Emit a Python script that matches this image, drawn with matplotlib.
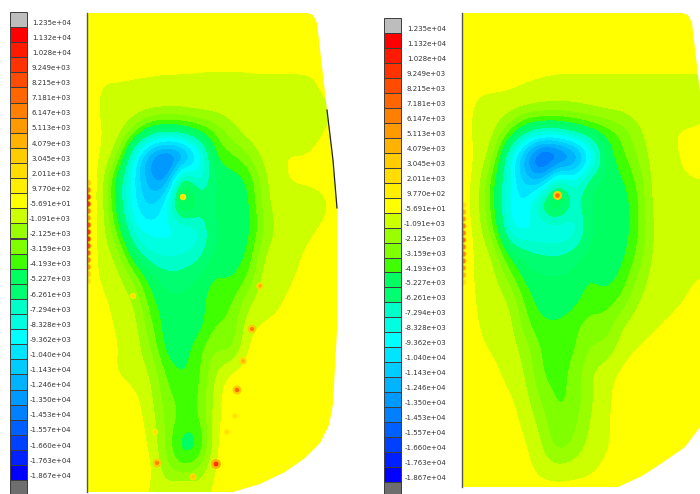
import matplotlib
matplotlib.use("Agg")
import matplotlib.pyplot as plt
import numpy as np
from matplotlib.colors import BoundaryNorm, ListedColormap
from matplotlib.patches import Polygon

# legend labels, top to bottom (first one is the grey overflow box)
labels = ["1.235e+04", "1.132e+04", "1.028e+04", "9.249e+03", "8.215e+03", "7.181e+03",
          "6.147e+03", "5.113e+03", "4.079e+03", "3.045e+03", "2.011e+03", "9.770e+02",
          "-5.691e+01", "-1.091e+03", "-2.125e+03", "-3.159e+03", "-4.193e+03", "-5.227e+03",
          "-6.261e+03", "-7.294e+03", "-8.328e+03", "-9.362e+03", "-1.040e+04", "-1.143e+04",
          "-1.246e+04", "-1.350e+04", "-1.453e+04", "-1.557e+04", "-1.660e+04", "-1.763e+04",
          "-1.867e+04"]
band_colors = ["#ff0000", "#ff1a00", "#ff3300", "#ff4c00", "#ff6600", "#ff8000", "#ff9900",
               "#ffb300", "#ffcc00", "#ffdd00", "#ffee00", "#ffff00", "#ccff00", "#99ff00",
               "#80ff00", "#40ff00", "#00ff60", "#00ff70", "#00ffc8", "#00ffe0", "#00ffff",
               "#00e5ff", "#00ccff", "#00b3ff", "#0099ff", "#0080ff", "#0060ff", "#0040ff",
               "#0020ff", "#0000ff"]

# field values in thousands, sampled every 16 px across and 24 px down
left_field = [
    [0] * 17,
    [0] * 17,
    [0] * 17,
    [0, -.7, -.7, -.8, -.9, -1, -1, -1.1, -1.2, -1.2, -1.1, -1, -1, -1, -1, 0, 0],
    [0, -.9, -.7, -.8, -.8, -.9, -.9, -.8, -.8, -1, -1, -1, -1, -1, -1, -.9, 0],
    [0, -.6, -1, -3, -6, -6.5, -6, -5, -3.8, -2, -1, -.6, -.6, -1, -1, -.5, 0],
    [0, -.6, -2.2, -10, -14, -16, -15, -10.5, -4.5, -4, -3, -1.2, -.6, -.5, -.5, 0, 0],
    [.3, -.9, -6.5, -10, -13, -14, -3.5, -9, -5.5, -5.5, -5, -2, -.7, -.4, -.4, -.2, 0],
    [.3, -.9, -6, -10, -11.5, -9, -2, -6, -5.5, -5.5, -5.5, -2, -1, -1, -1, -.8, 0],
    [.3, -1, -4.5, -9, -9.4, -9.4, -9.4, -8.5, -5.5, -5.5, -5.5, -3, -1, -1, -.8, -.3, 0],
    [.3, -1, -2, -6.5, -8, -8.3, -8, -7.5, -5.5, -5.5, -5, -1.5, -1, -.8, -.3, 0, 0],
    [0, -.8, -1.2, -3, -5.5, -6.3, -6.3, -5.5, -4.5, -5, -4, -1, -.9, -.6, -.2, 0, 0],
    [0, -.4, -.9, -1.5, -4.5, -5.5, -5.5, -5.2, -4, -4, -2, -.8, -.7, -.3, 0, 0, 0],
    [0, -.2, -.8, -1, -3.5, -5.5, -5.5, -5.5, -3.5, -3.8, -.8, -.5, -.5, 0, 0, 0, 0],
    [0, 0, -.6, -1, -2.5, -5.5, -5.3, -4, -2.5, -3.5, -.3, 0, 0, 0, 0, 0, 0],
    [0, -.3, -.7, -1, -1.5, -4, -5, -4, -1.5, -.2, 0, 0, 0, 0, 0, 0, 0],
    [0, 0, 0, -.3, -1.2, -3.5, -4, -4, -1, .3, 0, 0, 0, 0, 0, 0, 0],
    [0, 0, 0, -.1, -.9, -3, -4, -4, -.9, .2, 0, 0, 0, 0, 0, 0, 0],
    [0, 0, 0, 0, -.6, -3, -6, -5.5, -.5, .5, 0, 0, 0, 0, 0, 0, 0],
    [0, 0, 0, 0, -.1, -2.5, -3.5, -2.5, -.3, 0, 0, 0, 0, 0, 0, 0, 0],
    [0, 0, 0, 0, -.8, -1, .5, -1, -.3, 0, 0, 0, 0, 0, 0, 0, 0],
]
right_field = [
    [0] * 17,
    [0] * 17,
    [0] * 17,
    [0, -.3, -.3, -.4, -.6, -.8, -1, -1, -1, -1, -1, -1, -1, -1, -1, -1, -1],
    [0, -.9, -1, -1, -1.3, -1.4, -1.5, -1.4, -1.2, -1, -1, -1, -1, -1, -1, -1, 0],
    [0, -1, -1.2, -3.5, -6.5, -7.5, -7.5, -6.5, -5.5, -4.5, -3.5, -1.8, -1, -.6, -.4, -.4, 0],
    [0, -.7, -2, -9, -13.5, -18, -17, -15, -11, -5.5, -4, -2.5, -1, -.8, -.4, -.4, -.4],
    [0, -.9, -4.5, -9, -11.5, -12.5, -6, -9, -5.5, -5.5, -5, -3.5, -1, -.8, -.6, -.5, -.5],
    [0, -1.2, -4.5, -9.4, -10, -5, -3, -7.5, -5.5, -5.5, -5.5, -4, -1, -1, -1, -1, -1],
    [.3, -1, -3.5, -9.4, -9.4, -9.4, -9.4, -9.2, -5.5, -5.5, -5.5, -4, -1.2, -1, -1, -1, -1],
    [.3, -.9, -1.5, -5.5, -6.3, -6.8, -7, -6.3, -5.5, -5.5, -5.3, -3.5, -1.2, -1, -1, -.9, -1],
    [0, -.8, -1.2, -3, -5.5, -5.5, -5.5, -5.5, -4.5, -5.5, -4.5, -2.5, -1, -.9, -.8, -.6, -.6],
    [0, -.7, -1, -1.5, -4, -5.5, -5.5, -5.2, -4.2, -4.2, -3.5, -1.5, -1, -.9, -.6, 0, 0],
    [0, -.6, -.9, -1, -3.5, -4.5, -4.5, -4, -3, -3.5, -1.5, -1, -.7, -.4, 0, 0, 0],
    [0, -.4, -.7, -1, -2, -4, -4, -4, -2.5, -2.5, -1, -.5, -.3, 0, 0, 0, 0],
    [0, -.2, -.3, -1, -1.5, -4, -4, -3.5, -1.5, -.9, -.3, 0, 0, 0, 0, 0, 0],
    [0, 0, 0, -.4, -1.2, -3, -4, -3.5, -1.8, -.8, -.1, 0, 0, 0, 0, 0, 0],
    [0, 0, 0, -.1, -.9, -2, -3.8, -3, -1.5, -.7, -.1, 0, 0, 0, 0, 0, 0],
    [0, 0, 0, 0, -.4, -1.5, -3.5, -2.5, -1.2, -.8, 0, 0, 0, 0, 0, 0, 0],
    [0, 0, 0, 0, -.2, -1, -1.2, -1, -.8, -.3, 0, 0, 0, 0, 0, 0, 0],
    [0] * 17,
]

# small hot spots the grid is too coarse for: x, y, value
left_spot_x = [157, 216, 252, 243, 237, 235, 227, 260, 133, 155, 193, 183]
left_spot_y = [463, 464, 329, 361, 390, 416, 432, 286, 296, 432, 477, 197]
left_spot_val = [6, 9, 6, 4, 7, 2, 2, 4, 1.5, 1.5, 3, 2]
right_spot_x = [557]
right_spot_y = [195]
right_spot_val = [7]

# hot strip running along the left edge of each plate: y, value
left_edge_y = [183, 190, 197, 204, 211, 218, 225, 232, 239, 246, 253, 260, 267, 274, 281]
left_edge_val = [3, 6, 9, 9, 6, 5, 8, 9, 9, 8, 7, 6, 5, 3, 2]
right_edge_y = [205, 212, 219, 226, 233, 240, 247, 254, 261, 268, 275, 282]
right_edge_val = [2, 4, 5, 6, 6, 7, 6, 6, 6, 5, 4, 2]

# plate outlines
left_outline_x = [87, 307, 313, 317, 327, 333, 337, 337, 333, 329, 320, 305, 285, 260, 233, 87]
left_outline_y = [13, 13, 15, 23, 110, 160, 208, 330, 404, 425, 443, 458, 472, 484, 492, 492]
right_outline_x = [462, 682, 688, 692, 702, 708, 712, 712, 708, 700, 685, 665, 642, 618, 462]
right_outline_y = [13, 13, 15, 23, 110, 160, 208, 330, 404, 427, 447, 461, 476, 487, 487]

label_values = [12.35, 11.32, 10.28, 9.249, 8.215, 7.181, 6.147, 5.113, 4.079, 3.045, 2.011, .977,
                -.05691, -1.091, -2.125, -3.159, -4.193, -5.227, -6.261, -7.294, -8.328, -9.362,
                -10.4, -11.43, -12.46, -13.5, -14.53, -15.57, -16.6, -17.63, -18.67]

fig = plt.figure(figsize=(7, 4.94), dpi=100)
ax = fig.add_axes([0, 0, 1, 1])

vals = np.array(label_values[1:])[::-1]
edges = np.concatenate([[vals[0] - 1], (vals[1:] + vals[:-1]) / 2, [vals[-1] + 1]])
cmap = ListedColormap(band_colors[::-1])
norm = BoundaryNorm(edges, cmap.N, clip=True)


def draw_legend(x0, box_top, box_step, label_top, label_end):
    n = len(band_colors)
    tops = box_top + box_step * np.arange(n + 2)
    colors = ["#bdbdbd"] + band_colors + ["#6e6e6e"]
    ax.bar(np.full(n + 2, x0), np.full(n + 2, box_step), width=17, bottom=tops, align="edge",
           color=colors, edgecolor="#3c3c3c", linewidth=0.7)
    for i, lab in enumerate(labels):
        ax.text(label_end, label_top + box_step * i, lab, ha="right", va="center",
                fontsize=5, color="#333333")


def draw_panel(field, x0, outline_x, outline_y, spot_x, spot_y, spot_val, edge_y, edge_val):
    field = np.array(field)
    outline = Polygon(np.column_stack([outline_x, outline_y]), closed=True, facecolor="none",
                      edgecolor="none", transform=ax.transData)
    ax.add_patch(outline)
    im = ax.imshow(field, extent=[x0 - 8, x0 + 264, 505, 1], cmap=cmap, norm=norm, aspect="auto",
                   interpolation="bicubic", interpolation_stage="data")
    im.set_clip_path(outline)
    spot_val = np.array(spot_val)
    halo = ax.scatter(spot_x, spot_y, c=spot_val / 2, s=14 + 4 * spot_val, cmap=cmap, norm=norm,
                      linewidths=0)
    core = ax.scatter(spot_x, spot_y, c=spot_val, s=3 + spot_val, cmap=cmap, norm=norm,
                      linewidths=0)
    halo.set_clip_path(outline)
    core.set_clip_path(outline)
    edge_x = np.full(len(edge_y), x0 + 1)
    strip = ax.scatter(edge_x, edge_y, c=np.array(edge_val) / 2, s=24, cmap=cmap, norm=norm,
                       linewidths=0)
    strip_core = ax.scatter(edge_x, edge_y, c=edge_val, s=12, cmap=cmap, norm=norm, linewidths=0)
    strip.set_clip_path(outline)
    strip_core.set_clip_path(outline)
    ax.plot([x0, x0], [outline_y[0], outline_y[-1]], color="#555555", linewidth=1)


draw_legend(10, 12, 15.1, 22.7, 71)
draw_legend(384, 18, 14.97, 29, 446)
draw_panel(left_field, 87, left_outline_x, left_outline_y, left_spot_x, left_spot_y, left_spot_val,
           left_edge_y, left_edge_val)
draw_panel(right_field, 462, right_outline_x, right_outline_y, right_spot_x, right_spot_y, right_spot_val,
           right_edge_y, right_edge_val)
ax.plot(left_outline_x[4:7], left_outline_y[4:7], color="#222222", linewidth=0.9)

ax.set_xlim(0, 700)
ax.set_ylim(494, 0)
ax.axis("off")
fig.savefig("out.png", dpi=100, facecolor="white")
